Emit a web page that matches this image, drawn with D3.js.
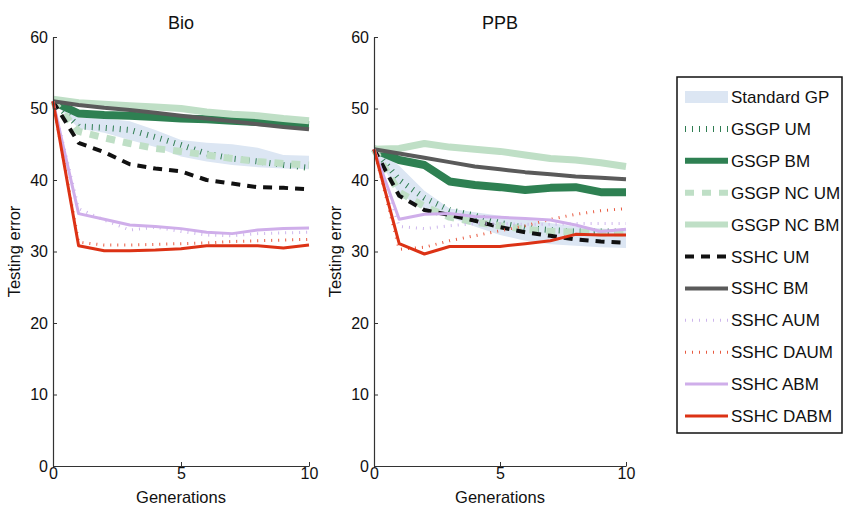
<!DOCTYPE html>
<html>
<head>
<meta charset="utf-8">
<script src="https://cdn.jsdelivr.net/npm/d3@7"></script>
<style>
  body { margin: 0; background: #fff; }
  svg { display: block; font-family: "Liberation Sans", Arial, sans-serif; }
</style>
</head>
<body>
<svg id="chart" width="844" height="511"></svg>
<script>
// ---------------- data ----------------
const generations = [0, 1, 2, 3, 4, 5, 6, 7, 8, 9, 10];
const yTicks = [0, 10, 20, 30, 40, 50, 60];
const xTicks = [0, 5, 10];
const panelTitles = ["Bio", "PPB"];

// Standard GP band (upper / lower)
const bioStdUpper = [51.8, 48.7, 48.6, 48.2, 47.0, 45.6, 45.2, 45.0, 44.5, 43.5, 43.4];
const bioStdLower = [51.0, 47.2, 46.6, 45.6, 44.6, 43.3, 42.6, 42.1, 41.8, 41.6, 41.5];
const bioGsgpUM   = [51.0, 47.5, 47.3, 47.0, 46.0, 44.9, 43.7, 43.0, 42.6, 42.1, 41.7];
const bioGsgpBM   = [51.0, 49.3, 49.1, 49.0, 48.8, 48.6, 48.5, 48.3, 48.1, 47.9, 47.7];
const bioGsgpNcUM = [51.0, 46.8, 45.9, 45.1, 44.4, 44.0, 43.5, 43.0, 42.6, 42.3, 42.1];
const bioGsgpNcBM = [51.3, 50.8, 50.6, 50.4, 50.2, 50.0, 49.5, 49.2, 49.0, 48.6, 48.3];
const bioSshcUM   = [51.0, 45.2, 43.9, 42.2, 41.6, 41.2, 40.0, 39.5, 39.0, 38.9, 38.7];
const bioSshcBM   = [51.0, 50.5, 50.1, 49.8, 49.4, 49.0, 48.6, 48.2, 47.8, 47.4, 47.1];
const bioSshcAUM  = [51.0, 36.0, 34.4, 33.0, 33.4, 32.8, 32.3, 32.2, 32.5, 32.6, 32.7];
const bioSshcDAUM = [51.0, 31.3, 30.9, 30.9, 31.0, 31.1, 31.2, 31.4, 31.5, 31.6, 31.7];
const bioSshcABM  = [51.0, 35.3, 34.5, 33.7, 33.5, 33.2, 32.7, 32.5, 33.0, 33.2, 33.3];
const bioSshcDABM = [51.0, 30.8, 30.1, 30.1, 30.2, 30.4, 30.8, 30.8, 30.8, 30.5, 30.9];

const ppbStdUpper = [44.6, 42.0, 38.5, 36.0, 35.5, 35.0, 34.5, 34.0, 33.5, 33.2, 33.0];
const ppbStdLower = [44.0, 38.0, 36.0, 34.8, 33.5, 32.3, 31.5, 31.0, 30.8, 30.6, 30.5];
const ppbGsgpUM   = [44.3, 40.0, 37.5, 35.8, 35.0, 34.0, 33.3, 33.0, 32.8, 32.8, 32.8];
const ppbGsgpBM   = [44.3, 42.8, 42.1, 39.8, 39.3, 39.0, 38.6, 38.9, 39.0, 38.3, 38.3];
const ppbGsgpNcUM = [44.3, 38.3, 36.3, 34.8, 34.1, 33.6, 33.1, 32.8, 32.7, 32.6, 32.6];
const ppbGsgpNcBM = [44.3, 44.4, 45.1, 44.6, 44.3, 44.0, 43.5, 43.0, 42.8, 42.4, 41.9];
const ppbSshcUM   = [44.3, 37.8, 35.8, 35.1, 34.3, 33.4, 32.7, 32.2, 31.7, 31.4, 31.2];
const ppbSshcBM   = [44.3, 43.7, 43.1, 42.5, 41.9, 41.5, 41.1, 40.8, 40.5, 40.3, 40.1];
const ppbSshcAUM  = [44.3, 33.5, 33.2, 33.6, 33.9, 33.9, 33.8, 33.8, 33.9, 33.9, 33.9];
const ppbSshcDAUM = [44.3, 30.3, 30.6, 31.5, 32.2, 32.9, 33.6, 34.5, 35.2, 35.7, 36.0];
const ppbSshcABM  = [44.3, 34.5, 35.2, 35.3, 34.9, 34.8, 34.6, 34.4, 33.7, 32.8, 33.1];
const ppbSshcDABM = [44.3, 31.1, 29.65, 30.7, 30.7, 30.7, 31.1, 31.5, 32.4, 32.3, 32.3];

const seriesNames = ["GSGP UM", "GSGP BM", "GSGP NC UM", "GSGP NC BM", "SSHC UM",
                     "SSHC BM", "SSHC AUM", "SSHC DAUM", "SSHC ABM", "SSHC DABM"];
const bandName = "Standard GP";

// ---------------- styles ----------------
const styles = {
  "GSGP UM":    { color: "#2f7d52", width: 6,   dash: "1,6" },
  "GSGP BM":    { color: "#2e8052", width: 8,   dash: null },
  "GSGP NC UM": { color: "#bfdfc6", width: 7,   dash: "9,8" },
  "GSGP NC BM": { color: "#bfdfc6", width: 7,   dash: null },
  "SSHC UM":    { color: "#111111", width: 4,   dash: "9,7" },
  "SSHC BM":    { color: "#5a5a5a", width: 4,   dash: null },
  "SSHC AUM":   { color: "#cdb6ec", width: 3,   dash: "1,6" },
  "SSHC DAUM":  { color: "#e85a40", width: 3,   dash: "1,6" },
  "SSHC ABM":   { color: "#cfaeea", width: 3,   dash: null },
  "SSHC DABM":  { color: "#dc3215", width: 3,   dash: null }
};
const bandColor = "#dce6f3";

const panels = [
  { title: panelTitles[0], upper: bioStdUpper, lower: bioStdLower,
    series: [bioGsgpUM, bioGsgpBM, bioGsgpNcUM, bioGsgpNcBM, bioSshcUM, bioSshcBM, bioSshcAUM, bioSshcDAUM, bioSshcABM, bioSshcDABM],
    x0: 53, x1: 309 },
  { title: panelTitles[1], upper: ppbStdUpper, lower: ppbStdLower,
    series: [ppbGsgpUM, ppbGsgpBM, ppbGsgpNcUM, ppbGsgpNcBM, ppbSshcUM, ppbSshcBM, ppbSshcAUM, ppbSshcDAUM, ppbSshcABM, ppbSshcDABM],
    x0: 374, x1: 626 }
];

const svg = d3.select("#chart");
const yTop = 37, yBot = 466;
const axisColor = "#333";

panels.forEach(p => {
  const x = d3.scaleLinear().domain([0, 10]).range([p.x0, p.x1]);
  const y = d3.scaleLinear().domain([0, 60]).range([yBot, yTop]);
  const g = svg.append("g");

  // band
  const area = d3.area()
    .x((d, i) => x(generations[i]))
    .y0((d, i) => y(p.lower[i]))
    .y1((d, i) => y(p.upper[i]));
  g.append("path").datum(p.upper).attr("d", area).attr("fill", bandColor);

  // lines
  const line = d3.line().x((d, i) => x(generations[i])).y(d => y(d));
  seriesNames.forEach((name, k) => {
    const s = styles[name];
    g.append("path").datum(p.series[k])
      .attr("d", line)
      .attr("fill", "none")
      .attr("stroke", s.color)
      .attr("stroke-width", s.width)
      .attr("stroke-linejoin", "round")
      .attr("stroke-dasharray", s.dash);
  });

  // axes
  const yAxis = d3.axisLeft(y).tickValues(yTicks).tickSizeInner(-4).tickSizeOuter(0).tickPadding(5);
  const xAxis = d3.axisBottom(x).tickValues(xTicks).tickSizeInner(-4).tickSizeOuter(0).tickPadding(2);
  const ya = g.append("g").attr("transform", `translate(${p.x0},0)`).call(yAxis);
  const xa = g.append("g").attr("transform", `translate(0,${yBot})`).call(xAxis);
  [ya, xa].forEach(a => {
    a.select(".domain").attr("stroke", axisColor).attr("stroke-width", 1.2);
    a.selectAll(".tick line").attr("stroke", axisColor);
    a.selectAll(".tick text").attr("fill", "#111").style("font-size", "16px")
      .style("font-family", "'Liberation Sans', Arial, sans-serif");
  });

  // titles/labels
  const cx = (p.x0 + p.x1) / 2;
  g.append("text").attr("x", cx).attr("y", 29).attr("text-anchor", "middle")
    .style("font-size", "18px").attr("fill", "#111").text(p.title);
  g.append("text").attr("x", cx).attr("y", 503).attr("text-anchor", "middle")
    .style("font-size", "16.5px").attr("fill", "#111").text("Generations");
  g.append("text").attr("transform", `translate(${p.x0 - 33},${(yTop + yBot) / 2}) rotate(-90)`)
    .attr("text-anchor", "middle").style("font-size", "16.5px").attr("fill", "#111").text("Testing error");
});

// ---------------- legend ----------------
const lg = svg.append("g");
lg.append("rect").attr("x", 677).attr("y", 77).attr("width", 165).attr("height", 356)
  .attr("fill", "#fff").attr("stroke", "#111").attr("stroke-width", 1.5);
const legendItems = [bandName].concat(seriesNames);
const rowY = d3.scaleLinear().domain([0, legendItems.length - 1]).range([97, 416]);
legendItems.forEach((name, i) => {
  const yy = rowY(i);
  if (name === bandName) {
    lg.append("rect").attr("x", 685).attr("y", yy - 6).attr("width", 43).attr("height", 12).attr("fill", bandColor);
  } else {
    const s = styles[name];
    lg.append("line").attr("x1", 685).attr("x2", 728).attr("y1", yy).attr("y2", yy)
      .attr("stroke", s.color).attr("stroke-width", Math.min(s.width, 6))
      .attr("stroke-dasharray", s.dash);
  }
  lg.append("text").attr("x", 731).attr("y", yy + 6).style("font-size", "17px")
    .attr("fill", "#111").text(name);
});
</script>
</body>
</html>
